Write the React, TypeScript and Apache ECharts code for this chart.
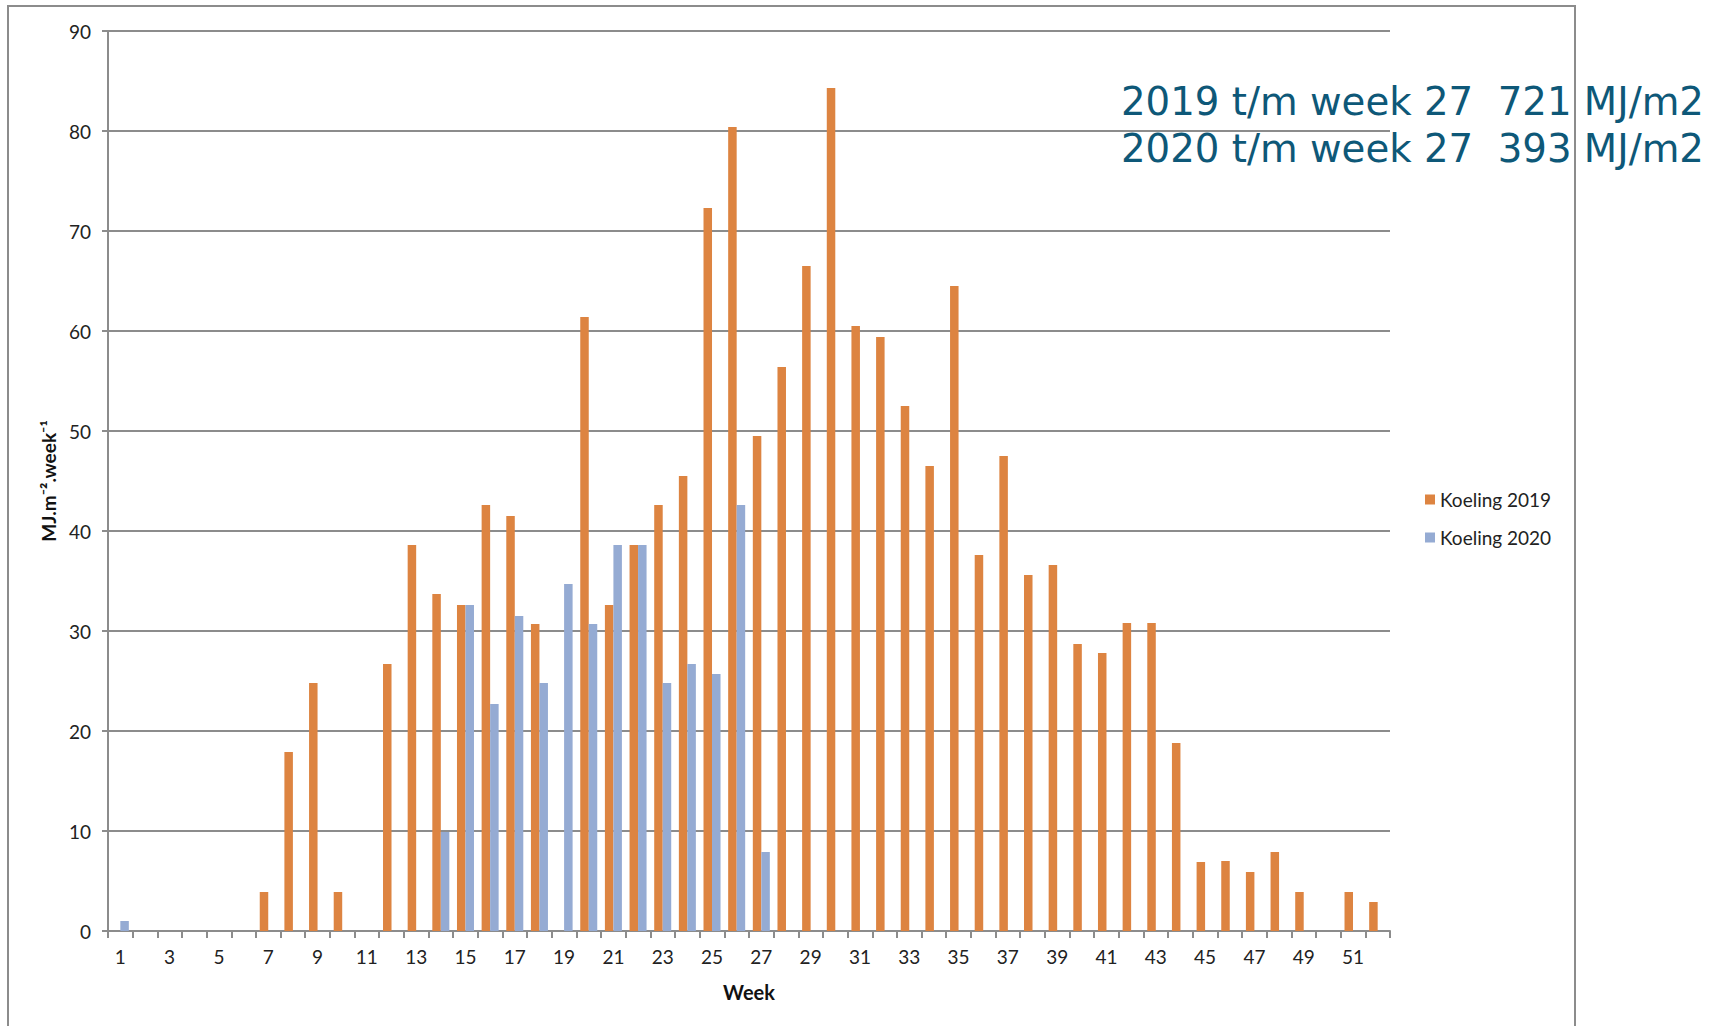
import React, { useEffect, useRef } from "react";
import * as echarts from "echarts";

const weeks: string[] = Array.from({ length: 52 }, (_, i) => String(i + 1));

// Koeling 2019, weeks 1..52
const koeling2019: (number | null)[] = [
  0, 0, 0, 0, 0, 0, 3.9, 17.9, 24.8, 3.9,
  0, 26.7, 38.6, 33.7, 32.6, 42.6, 41.5, 30.7, 0, 61.4,
  32.6, 38.6, 42.6, 45.5, 72.3, 80.4, 49.5, 56.4, 66.5, 84.3,
  60.5, 59.4, 52.5, 46.5, 64.5, 37.6, 47.5, 35.6, 36.6, 28.7,
  27.8, 30.8, 30.8, 18.8, 6.9, 7.0, 5.9, 7.9, 3.9, 0,
  3.9, 2.9,
];

// Koeling 2020, weeks 1..27
const koeling2020: (number | null)[] = [
  1.0, 0, 0, 0, 0, 0, 0, 0, 0, 0,
  0, 0, 0, 9.9, 32.6, 22.7, 31.5, 24.8, 34.7, 30.7,
  38.6, 38.6, 24.8, 26.7, 25.7, 42.6, 7.9,
];

const seriesNames = ["Koeling 2019", "Koeling 2020"];
const annotationLines = [
  "2019 t/m week 27  721 MJ/m2",
  "2020 t/m week 27  393 MJ/m2",
];
const yTitle = "MJ.m\u207B\u00B2.week\u207B\u00B9";
const xTitle = "Week";

const GRID = "#8c8c8c";
const ORANGE = "#dd8441";
const BLUE = "#95abd3";
const LABEL_FONT = "Lato, 'Liberation Sans', sans-serif";

export default function App() {
  const ref = useRef<HTMLDivElement>(null);

  useEffect(() => {
    if (!ref.current) return;
    const chart = echarts.init(ref.current, null, { renderer: "svg" });
    chart.setOption({
      animation: false,
      backgroundColor: "#ffffff",
      grid: { left: 108, right: 333, top: 31, bottom: 95, containLabel: false },
      legend: {
        orient: "vertical",
        left: 1420,
        top: 485,
        itemWidth: 10,
        itemHeight: 10,
        itemGap: 19,
        icon: "rect",
        textStyle: { fontFamily: LABEL_FONT, fontSize: 19, color: "#222" },
        data: seriesNames,
      },
      xAxis: {
        type: "category",
        data: weeks,
        boundaryGap: true,
        name: xTitle,
        nameLocation: "middle",
        nameGap: 51,
        nameTextStyle: { fontFamily: LABEL_FONT, fontSize: 20, fontWeight: "bold", color: "#111" },
        axisLine: { show: true, lineStyle: { color: GRID, width: 2 } },
        axisTick: { show: true, interval: 0, length: 7, lineStyle: { color: GRID, width: 2 } },
        axisLabel: {
          interval: 1,
          margin: 16,
          fontFamily: LABEL_FONT,
          fontSize: 19,
          color: "#222",
        },
        splitLine: { show: false },
      },
      yAxis: {
        type: "value",
        min: 0,
        max: 90,
        interval: 10,
        name: yTitle,
        nameLocation: "middle",
        nameRotate: 90,
        nameGap: 50,
        nameTextStyle: { fontFamily: LABEL_FONT, fontSize: 19, fontWeight: "bold", color: "#111" },
        axisLine: { show: true, lineStyle: { color: GRID, width: 2 } },
        axisTick: { show: true, length: 6, lineStyle: { color: GRID, width: 2 } },
        axisLabel: { margin: 17, fontFamily: LABEL_FONT, fontSize: 19, color: "#222" },
        splitLine: { show: true, lineStyle: { color: GRID, width: 2 } },
      },
      series: [
        {
          name: seriesNames[0],
          type: "bar",
          data: koeling2019,
          barGap: "0%",
          barCategoryGap: "31%",
          itemStyle: { color: ORANGE },
        },
        {
          name: seriesNames[1],
          type: "bar",
          data: koeling2020,
          barGap: "0%",
          barCategoryGap: "31%",
          itemStyle: { color: BLUE },
        },
      ],
      graphic: [
        {
          type: "rect",
          silent: true,
          z: -10,
          shape: { x: 8, y: 6, width: 1567, height: 1040 },
          style: { fill: "none", stroke: GRID, lineWidth: 2 },
        },
        ...annotationLines.map((t, i) => ({
          type: "text",
          left: 1121,
          top: 82 + i * 47,
          z: 100,
          style: {
            text: t,
            fontFamily: "'DejaVu Sans', Verdana, sans-serif",
            fontSize: 38.7,
            fill: "#0e5878",
          },
        })),
      ],
    });
    return () => chart.dispose();
  }, []);

  return (
    <div
      ref={ref}
      style={{ position: "fixed", left: 0, top: 0, width: 1723, height: 1026 }}
    />
  );
}
